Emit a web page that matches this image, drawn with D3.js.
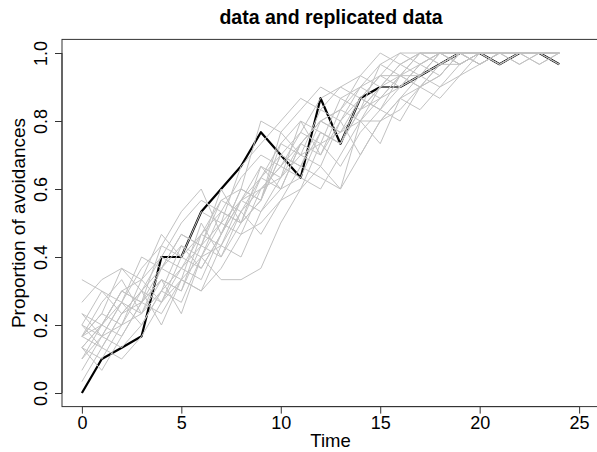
<!DOCTYPE html>
<html><head><meta charset="utf-8">
<script src="https://cdn.jsdelivr.net/npm/d3@7"></script>
<style>body{margin:0;background:#fff}svg{display:block;font-family:"Liberation Sans",Arial,sans-serif}</style>
</head><body><svg id="c" width="597" height="452"></svg>
<script>
// Observed proportion of avoidances at each trial
const trials = d3.range(0, 25);
const observed = [0, 0.1, 0.133, 0.167, 0.4, 0.4, 0.533, 0.6, 0.667, 0.767, 0.7, 0.633, 0.867,
  0.733, 0.867, 0.9, 0.9, 0.933, 0.967, 1.0, 1.0, 0.967, 1.0, 1.0, 0.967];
// Replicated datasets: number of dogs (out of nDogs) avoiding at each trial
const nDogs = 30;
const rep1  = [4, 6, 5, 8, 10, 9, 13, 15, 14, 18, 20, 19, 23, 22, 25, 26, 27, 28, 29, 30, 29, 30, 30, 30, 30];
const rep2  = [6, 4, 7, 9, 8, 12, 11, 14, 17, 16, 19, 22, 21, 24, 26, 25, 28, 27, 29, 29, 30, 30, 29, 30, 30];
const rep3  = [10, 9, 8, 7, 11, 13, 12, 16, 15, 19, 21, 20, 24, 25, 24, 27, 28, 29, 28, 30, 30, 29, 30, 30, 29];
const rep4  = [3, 5, 8, 6, 9, 11, 14, 13, 17, 20, 18, 22, 24, 23, 26, 28, 27, 29, 30, 29, 30, 30, 30, 29, 30];
const rep5  = [5, 7, 6, 10, 12, 11, 10, 14, 18, 17, 21, 23, 22, 26, 25, 27, 29, 28, 30, 30, 29, 30, 30, 30, 30];
const rep6  = [7, 6, 9, 8, 7, 10, 15, 12, 16, 19, 22, 21, 25, 24, 27, 26, 28, 30, 29, 30, 30, 30, 30, 30, 30];
const rep7  = [4, 3, 6, 9, 11, 14, 13, 17, 16, 18, 19, 24, 23, 22, 25, 29, 28, 28, 30, 29, 30, 30, 30, 30, 29];
const rep8  = [5, 8, 10, 7, 9, 8, 12, 10, 10, 11, 15, 18, 20, 18, 21, 24, 25, 27, 28, 30, 30, 30, 29, 30, 30];
const rep9  = [1, 4, 3, 5, 8, 10, 9, 11, 14, 15, 17, 20, 19, 18, 24, 24, 26, 25, 27, 29, 30, 30, 30, 30, 30];
const rep10 = [8, 10, 11, 9, 12, 15, 17, 16, 19, 21, 20, 23, 26, 27, 26, 28, 30, 29, 30, 30, 29, 30, 30, 30, 30];
const rep11 = [5, 6, 9, 10, 8, 11, 13, 18, 15, 17, 23, 21, 22, 20, 23, 25, 24, 27, 26, 28, 30, 29, 30, 30, 30];
const rep12 = [6, 9, 7, 8, 13, 12, 16, 15, 20, 22, 24, 26, 25, 27, 28, 30, 29, 30, 30, 30, 30, 30, 30, 30, 30];
const rep13 = [4, 2, 5, 8, 10, 7, 12, 13, 12, 16, 18, 19, 18, 21, 24, 22, 26, 28, 27, 28, 29, 30, 30, 29, 30];
const rep14 = [7, 5, 4, 6, 9, 13, 11, 14, 17, 19, 18, 22, 24, 25, 28, 27, 29, 30, 30, 29, 30, 30, 30, 30, 30];
const rep15 = [5, 7, 11, 10, 14, 12, 14, 17, 18, 24, 23, 25, 27, 26, 27, 29, 30, 30, 30, 30, 30, 30, 30, 30, 30];
const rep16 = [2, 5, 8, 12, 11, 14, 13, 12, 15, 17, 21, 20, 23, 22, 26, 25, 27, 28, 29, 30, 29, 30, 30, 30, 30];
const rep17 = [6, 5, 6, 7, 10, 9, 14, 16, 15, 20, 19, 21, 20, 24, 21, 24, 26, 27, 29, 30, 30, 30, 30, 30, 30];
const rep18 = [4, 6, 8, 11, 13, 16, 18, 14, 18, 17, 22, 24, 21, 25, 27, 28, 28, 30, 29, 30, 30, 30, 30, 30, 30];
const rep19 = [5, 4, 7, 9, 6, 10, 9, 13, 16, 14, 17, 18, 22, 23, 24, 26, 28, 27, 28, 30, 30, 29, 30, 30, 30];
const rep20 = [3, 6, 9, 8, 11, 10, 12, 15, 17, 18, 20, 22, 24, 23, 25, 27, 27, 29, 30, 30, 30, 30, 30, 30, 30];
const replicates = [rep1, rep2, rep3, rep4, rep5, rep6, rep7, rep8, rep9, rep10,
  rep11, rep12, rep13, rep14, rep15, rep16, rep17, rep18, rep19, rep20];
const xTicks = [0, 5, 10, 15, 20, 25];
const yTicks = [0, 0.2, 0.4, 0.6, 0.8, 1.0];

const svg = d3.select("#c");
const L = 62, R = 599, T = 39.4, B = 406.6;
const x = d3.scaleLinear().domain([-1, 26]).range([L, R]);
const y = d3.scaleLinear().domain([-0.04, 1.04]).range([B, T]);
const FF = "Liberation Sans, Arial, sans-serif";

const line = d3.line().x((d, i) => x(trials[i])).y(d => y(d));

// observed (drawn first, replicates over it)
svg.append("path").datum(observed).attr("d", line)
  .attr("fill", "none").attr("stroke", "#000").attr("stroke-width", 2.2)
  .attr("stroke-linejoin", "round");

svg.append("g").selectAll("path").data(replicates).join("path")
  .attr("d", r => line(r.map(c => c / nDogs)))
  .attr("fill", "none").attr("stroke", "#c2c2c2").attr("stroke-width", 1);

// box
svg.append("rect").attr("x", L).attr("y", T).attr("width", R - L).attr("height", B - T)
  .attr("fill", "none").attr("stroke", "#333").attr("stroke-width", 1);

// x axis
const xa = svg.append("g").attr("transform", `translate(0,${B})`)
  .call(d3.axisBottom(x).tickValues(xTicks).tickFormat(d3.format("d")).tickSize(7));
xa.select(".domain").attr("d", `M${x(0)},0H${x(25)}`).attr("stroke", "#333");
xa.selectAll(".tick line").attr("stroke", "#333");
xa.selectAll("text").attr("font-size", 18).attr("fill", "#000").attr("font-family", FF)
  .attr("y", 22.5).attr("dy", null);

// y axis
const ya = svg.append("g").attr("transform", `translate(${L},0)`)
  .call(d3.axisLeft(y).tickValues(yTicks).tickFormat(d3.format(".1f")).tickSize(7));
ya.select(".domain").attr("d", `M0,${y(0)}V${y(1)}`).attr("stroke", "#333");
ya.selectAll(".tick line").attr("stroke", "#333");
ya.selectAll("text").attr("font-size", 18).attr("fill", "#000").attr("font-family", FF)
  .attr("x", null).attr("y", null).attr("dy", null)
  .attr("text-anchor", "middle")
  .attr("transform", "translate(-15,0) rotate(-90)");

// titles
svg.append("text").attr("x", 331).attr("y", 24).attr("text-anchor", "middle")
  .attr("font-size", 19.5).attr("font-weight", "bold").text("data and replicated data");
svg.append("text").attr("x", (L + R) / 2).attr("y", 447).attr("text-anchor", "middle")
  .attr("font-size", 18.5).text("Time");
svg.append("text").attr("transform", `translate(25,${(T + B) / 2}) rotate(-90)`)
  .attr("text-anchor", "middle").attr("font-size", 19).text("Proportion of avoidances");
</script></body></html>
